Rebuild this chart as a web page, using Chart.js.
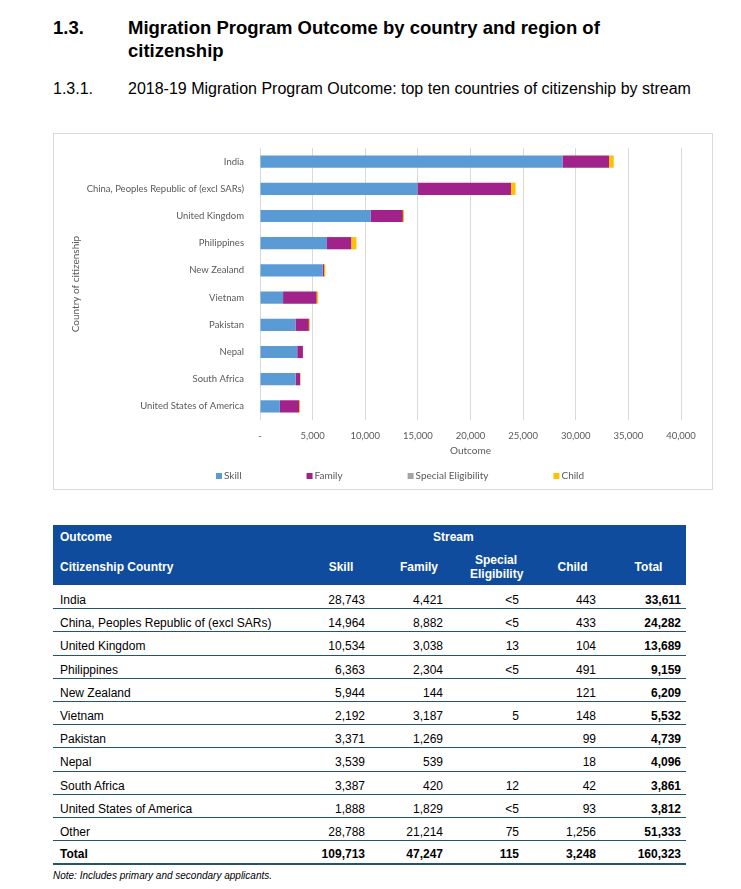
<!DOCTYPE html>
<html>
<head>
<meta charset="utf-8">
<script src="https://cdn.jsdelivr.net/npm/chart.js@4.4.0/dist/chart.umd.min.js"></script>
<style>
  body { margin: 0; background: #fff; font-family: 'Liberation Sans', Arial, sans-serif; color: #000; }
  .page { position: relative; width: 741px; height: 889px; overflow: hidden; }
  .h1 { position: absolute; top: 16px; left: 53px; font-size: 18.5px; font-weight: bold; line-height: 23px; }
  .h1 .txt, .h2 .txt { position: absolute; left: 75px; top: 0; white-space: nowrap; }
  .h2 { position: absolute; top: 79px; left: 53px; font-size: 16px; line-height: 20px; }
  .box { position: absolute; left: 53px; top: 133px; width: 660px; height: 357px; border: 1px solid #d9d9d9; box-sizing: border-box; }
  .box .wrap { position: relative; width: 658px; height: 355px; }
  table { position: absolute; left: 53px; top: 525px; width: 633px; border-collapse: collapse; table-layout: fixed; font-size: 12px; }
  th { background: #0f4c9e; color: #fff; font-weight: bold; padding: 0; line-height: 14px; }
  th.l { text-align: left; padding-left: 7px; }
  th.c { text-align: center; padding-left: 24px; }
  td { padding: 7px 3px 1.2px 3px; line-height: 14px; border-bottom: 1px solid #24566a; white-space: nowrap; }
  td.n { text-align: right; }
  td.l { padding-left: 7px; }
  tr.first td { padding-top: 8px; }
  tr.tot td { font-weight: bold; padding-top: 6px; padding-bottom: 2px; border-bottom: 2.5px solid #24566a; }
  td.t { font-weight: bold; padding-right: 5px; }
  .note { position: absolute; left: 53px; top: 870px; font-size: 10px; font-style: italic; }
</style>
</head>
<body>
<div class="page">
  <div class="h1"><span>1.3.</span><span class="txt">Migration Program Outcome by country and region of<br>citizenship</span></div>
  <div class="h2"><span>1.3.1.</span><span class="txt">2018-19 Migration Program Outcome: top ten countries of citizenship by stream</span></div>
  <div class="box"><div class="wrap"><canvas id="chart"></canvas></div></div>
  <table id="tbl"></table>
  <div class="note">Note: Includes primary and secondary applicants.</div>
</div>
<script>
const countries = ['India', 'China, Peoples Republic of (excl SARs)', 'United Kingdom', 'Philippines', 'New Zealand',
  'Vietnam', 'Pakistan', 'Nepal', 'South Africa', 'United States of America'];
const streams = ['Skill', 'Family', 'Special Eligibility', 'Child'];
const skill = [28743, 14964, 10534, 6363, 5944, 2192, 3371, 3539, 3387, 1888];
const family = [4421, 8882, 3038, 2304, 144, 3187, 1269, 539, 420, 1829];
const special = [4, 3, 13, 1, 0, 5, 0, 0, 12, 2];
const child = [443, 433, 104, 491, 121, 148, 99, 18, 42, 93];
const totals = [33611, 24282, 13689, 9159, 6209, 5532, 4739, 4096, 3861, 3812];
const otherRow = [28788, 21214, 75, 1256, 51333];
const totalRow = [109713, 47247, 115, 3248, 160323];
const xTicks = [0, 5000, 10000, 15000, 20000, 25000, 30000, 35000, 40000];

const colors = ['#5b9bd5', '#a0228a', '#a5a5a5', '#ffc000'];
const fmt = v => v.toLocaleString('en-US');

// legend spaced out like the Excel one
const spreadLegend = {
  id: 'spreadLegend',
  afterDraw(chart, args, opts) {
    const ctx = chart.ctx;
    ctx.save();
    ctx.font = '10px Lato';
    ctx.textBaseline = 'middle';
    let x = opts.x;
    chart.data.datasets.forEach(ds => {
      ctx.fillStyle = ds.backgroundColor;
      ctx.fillRect(x, opts.y - 3, 6, 6);
      ctx.fillStyle = '#595959';
      ctx.fillText(ds.label, x + 8, opts.y);
      x += 8 + ctx.measureText(ds.label).width + opts.gap;
    });
    ctx.restore();
  }
};

Chart.defaults.font.family = 'Lato';
Chart.defaults.font.size = 10;
Chart.defaults.color = '#595959';

new Chart(document.getElementById('chart'), {
  type: 'bar',
  data: {
    labels: countries,
    datasets: [skill, family, special, child].map((d, i) => ({
      label: streams[i],
      data: d,
      backgroundColor: colors[i],
      barPercentage: 0.45,
      categoryPercentage: 1
    }))
  },
  options: {
    indexAxis: 'y',
    responsive: true,
    maintainAspectRatio: false,
    animation: false,
    layout: { padding: { top: 14, right: 31, bottom: 23, left: 0 } },
    plugins: {
      legend: { display: false },
      tooltip: { enabled: false },
      spreadLegend: { x: 162, y: 342, gap: 65 }
    },
    scales: {
      x: {
        stacked: true,
        min: xTicks[0],
        max: xTicks[xTicks.length - 1],
        afterBuildTicks: s => { s.ticks = xTicks.map(v => ({ value: v })); },
        ticks: { padding: 10, font: { size: 9.5 }, callback: v => v === 0 ? '-' : fmt(v) },
        grid: { color: '#d9d9d9', drawTicks: false },
        border: { display: false },
        title: { display: true, text: 'Outcome', padding: { top: 0, bottom: 9 } },
        afterFit: s => { s.height = 46; }
      },
      y: {
        stacked: true,
        ticks: { padding: 8, font: { size: 9.5 } },
        grid: { display: false },
        border: { display: false },
        title: { display: true, text: 'Country of citizenship', padding: { top: 16, bottom: 0 } },
        afterFit: s => { s.width = 206; }
      }
    }
  },
  plugins: [spreadLegend]
});

// table
const se = v => v === 0 ? '' : (v < 5 ? '&lt;5' : v);
let html = '<colgroup><col style="width:237px"><col style="width:78px"><col style="width:78px">' +
  '<col style="width:76px"><col style="width:77px"><col style="width:87px"></colgroup>';
html += '<tr style="height:23px"><th class="l">Outcome</th><th colspan="5" style="text-align:left;padding-left:143px">Stream</th></tr>';
html += '<tr style="height:37px"><th class="l">Citizenship Country</th><th class="c">Skill</th><th class="c">Family</th>' +
  '<th class="c">Special<br>Eligibility</th><th class="c">Child</th><th class="c" style="padding-left:12px">Total</th></tr>';
countries.forEach((c, i) => {
  html += '<tr' + (i === 0 ? ' class="first"' : '') + '><td class="l">' + c + '</td><td class="n">' + fmt(skill[i]) +
    '</td><td class="n">' + fmt(family[i]) + '</td><td class="n">' + se(special[i]) + '</td><td class="n">' +
    fmt(child[i]) + '</td><td class="n t">' + fmt(totals[i]) + '</td></tr>';
});
html += '<tr><td class="l">Other</td>' + otherRow.map((v, j) => '<td class="n' + (j === 4 ? ' t' : '') + '">' + fmt(v) + '</td>').join('') + '</tr>';
html += '<tr class="tot"><td class="l">Total</td>' + totalRow.map((v, j) => '<td class="n' + (j === 4 ? ' t' : '') + '">' + fmt(v) + '</td>').join('') + '</tr>';
document.getElementById('tbl').innerHTML = html;
</script>
</body>
</html>
